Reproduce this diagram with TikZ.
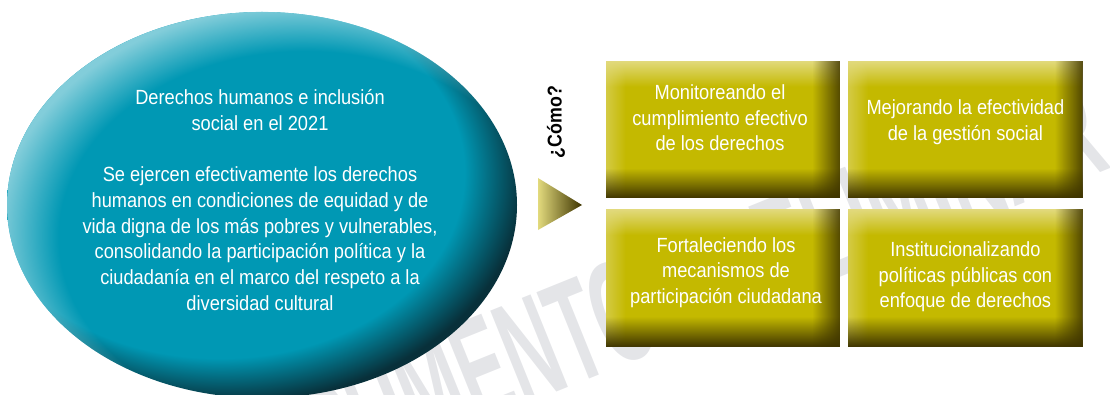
\documentclass[tikz,border=0pt]{standalone}
\usepackage{fontspec}
\usetikzlibrary{positioning,fadings}
\newfontfamily\narrowsans[FakeStretch=0.89]{Liberation Sans}
\newfontfamily\markfont[FakeStretch=0.51]{Liberation Sans}

\definecolor{tealbase}{RGB}{0,152,180}
\definecolor{tealdark}{RGB}{8,48,58}
\definecolor{teallight}{RGB}{130,205,218}
\definecolor{olivebase}{RGB}{196,185,0}
\definecolor{olivelight}{RGB}{226,218,125}
\definecolor{olivedark}{RGB}{62,52,0}
\definecolor{markgray}{RGB}{228,229,232}

\pgfdeclareradialshading{tealrim}{\pgfpoint{-8bp}{8bp}}{color(0bp)=(tealbase); color(24bp)=(tealbase); color(29bp)=(tealdark); color(50bp)=(tealdark)}
\pgfdeclareradialshading{lightrimmask}{\pgfpoint{8bp}{-8bp}}{color(0bp)=(black); color(24bp)=(black); color(29bp)=(white); color(50bp)=(white)}
\pgfdeclarefading{lightrim}{\pgfuseshading{lightrimmask}}
\tikzfading[name=fadedown, top color=transparent!0, bottom color=transparent!100]
\tikzfading[name=fadeup, top color=transparent!100, bottom color=transparent!0]
\tikzfading[name=fadeleft, left color=transparent!0, right color=transparent!100]
\tikzfading[name=faderight, left color=transparent!100, right color=transparent!0]

\begin{document}
\begin{tikzpicture}[
        x=1pt, y=1pt,
        boxstep/.style={
            rectangle,
            fill=olivebase,
            minimum width=234pt,
            minimum height=137pt,
            inner sep=0pt
        },
        boxlabel/.style={
            text=white,
            align=center,
            font=\narrowsans\fontsize{20.5}{25.5}\selectfont
        }
    ]
    \useasboundingbox (0,0) rectangle (1110,394);

    \node[markgray, font=\markfont\bfseries\fontsize{145}{145}\selectfont, rotate=22, anchor=base east] (marca) at (1116,228) {DOCUMENTO PRELIMINAR};

    \coordinate (centro) at (262,189);
    \shade[shading=tealrim] (centro) ellipse [x radius=255, y radius=193];
    \fill[teallight, path fading=lightrim] (centro) ellipse [x radius=255, y radius=193];
    \node[boxlabel, font=\narrowsans\fontsize{20.5}{25.7}\selectfont] (vision) at (260,194) {Derechos humanos e inclusión\\social en el 2021\\[25.7pt]Se ejercen efectivamente los derechos\\humanos en condiciones de equidad y de\\vida digna de los más pobres y vulnerables,\\consolidando la participación política y la\\ciudadanía en el marco del respeto a la\\diversidad cultural};

    \node[rotate=90, font=\narrowsans\bfseries\fontsize{20}{24}\selectfont] (como) at (556,272) {¿Cómo?};
    \shade[left color=olivelight, right color=olivedark] (538,216) -- (538,164) -- (582,189) -- cycle;

    \node[boxstep] (monitor) at (723,264.5) {};
    \node[boxstep, right=8pt of monitor] (mejora) {};
    \node[boxstep, below=11pt of monitor] (fortalece) {};
    \node[boxstep, right=8pt of fortalece] (institucional) {};

    \foreach \b in {monitor,mejora,fortalece,institucional} {
        \fill[olivelight, path fading=fadedown] (\b.north west) rectangle ([yshift=-26pt]\b.north east);
        \fill[olivelight, fill opacity=0.55, path fading=fadeleft] (\b.north west) rectangle ([xshift=20pt]\b.south west);
        \fill[olivedark, path fading=fadeup] (\b.south west) rectangle ([yshift=30pt]\b.south east);
        \fill[olivedark, fill opacity=0.85, path fading=faderight] ([xshift=-28pt]\b.north east) rectangle (\b.south east);
    }

    \node[boxlabel] at ([xshift=-3pt, yshift=11.5pt]monitor.center) {Monitoreando el\\cumplimiento efectivo\\de los derechos};
    \node[boxlabel] at ([yshift=7.5pt]mejora.center) {Mejorando la efectividad\\de la gestión social};
    \node[boxlabel] at ([xshift=3pt, yshift=5.5pt]fortalece.center) {Fortaleciendo los\\mecanismos de\\participación ciudadana};
    \node[boxlabel] at ([yshift=1pt]institucional.center) {Institucionalizando\\políticas públicas con\\enfoque de derechos};
\end{tikzpicture}
\end{document}
